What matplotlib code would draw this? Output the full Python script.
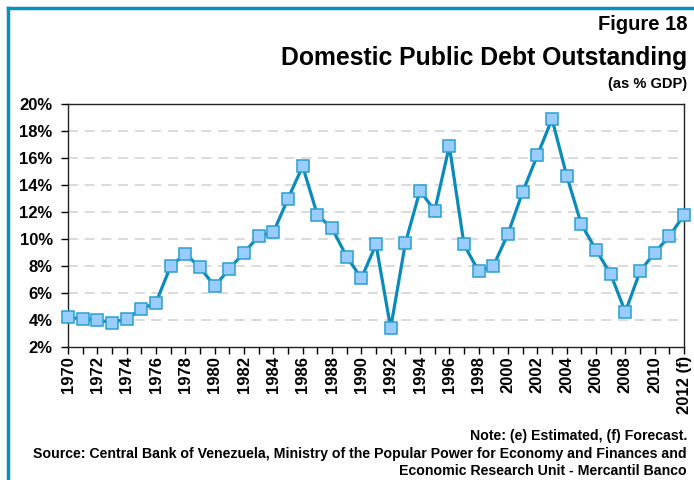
import matplotlib
matplotlib.use('Agg')
import matplotlib.pyplot as plt
from matplotlib.lines import Line2D
from matplotlib.ticker import FuncFormatter

plt.rcParams['font.family'] = ['Liberation Sans', 'DejaVu Sans']
plt.rcParams['font.weight'] = 'bold'

years = list(range(1970, 2013))
debt_pct = [4.2, 4.1, 4.0, 3.8, 4.1, 4.8, 5.3, 8.0, 8.9, 7.9,
            6.5, 7.8, 9.0, 10.2, 10.5, 13.0, 15.4, 11.8, 10.8, 8.7,
            7.1, 9.6, 3.4, 9.7, 13.6, 12.1, 16.9, 9.6, 7.6, 8.0,
            10.4, 13.5, 16.2, 18.9, 14.7, 11.1, 9.2, 7.4, 4.6, 7.6,
            9.0, 10.2, 11.8]
tick_years = list(range(1970, 2012, 2))
x_labels = [str(y) if y in tick_years else ('2012 (f)' if y == 2012 else '') for y in years]

fig = plt.figure(figsize=(6.94, 4.8), dpi=100)
ax = fig.add_axes([0.098, 0.277, 0.8876, 0.506])

ax.plot(years, debt_pct, color='#0a8bbb', lw=2.3, marker='s', ms=9,
        mfc='#99ccff', mec='#2a9fd0', mew=1.1, zorder=3, clip_on=False)

ax.set_xlim(1970, 2012)
ax.set_ylim(2, 20)
ax.set_yticks(range(2, 21, 2))
ax.yaxis.set_major_formatter(FuncFormatter(lambda v, p: f'{v:.0f}%'))
ax.set_xticks(years)
ax.set_xticklabels(x_labels, rotation=90, fontsize=12, fontweight='bold')
ax.tick_params(axis='y', labelsize=12, length=5, width=1, pad=6)
ax.tick_params(axis='x', length=5, width=1, pad=1.5)
for lab in ax.get_yticklabels():
    lab.set_fontweight('bold')

# dashed gridlines
for v in range(4, 20, 2):
    ax.axhline(v, color='#d4d4d4', lw=1.2, ls=(0, (6, 4)), zorder=1)

for s in ax.spines.values():
    s.set_color('#222222')
    s.set_linewidth(1)

# titles
fig.text(0.99, 0.95, 'Figure 18', ha='right', va='center', fontsize=14.5, fontweight='bold')
fig.text(0.99, 0.88, 'Domestic Public Debt Outstanding', ha='right', va='center', fontsize=17.8, fontweight='bold')
fig.text(0.99, 0.825, '(as % GDP)', ha='right', va='center', fontsize=10.5, fontweight='bold')

# footnotes
fs = 10.2
fig.text(0.99, 0.091, 'Note: (e) Estimated, (f) Forecast.', ha='right', va='center', fontsize=fs, fontweight='bold')
fig.text(0.99, 0.055, 'Source: Central Bank of Venezuela, Ministry of the Popular Power for Economy and Finances and',
         ha='right', va='center', fontsize=fs, fontweight='bold')
fig.text(0.99, 0.019, 'Economic Research Unit - Mercantil Banco', ha='right', va='center', fontsize=fs, fontweight='bold')

# blue frame (top and left)
fig.add_artist(Line2D([0.0115, 1.0], [0.983, 0.983], color='#0a8fc0', lw=2.5, transform=fig.transFigure))
fig.add_artist(Line2D([0.0115, 0.0115], [0.0, 0.983], color='#0a8fc0', lw=2.5, transform=fig.transFigure))

fig.savefig('out.png', dpi=100)
